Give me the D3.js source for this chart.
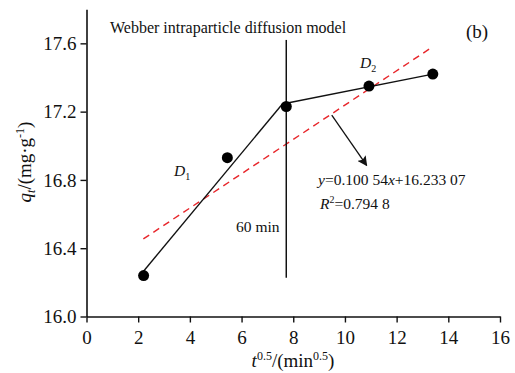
<!DOCTYPE html>
<html><head><meta charset="utf-8">
<script src="https://cdn.jsdelivr.net/npm/d3@7"></script>
<style>
body{margin:0;background:#fff;}
svg, svg text{font-family:"Liberation Serif","Times New Roman",serif !important;}
</style></head>
<body><svg id="c" width="515" height="373"></svg>
<script>
const xTicks = [0,2,4,6,8,10,12,14,16];
const yTicks = [16.0,16.4,16.8,17.2,17.6];
const pointX = [2.21, 5.45, 7.73, 10.93, 13.4];
const pointY = [16.24, 16.93, 17.23, 17.35, 17.42];
const d1X = [2.15, 7.58];
const d1Y = [16.255, 17.245];
const d2X = [7.58, 13.4];
const d2Y = [17.245, 17.42];
const fitSlope = 0.10054, fitIntercept = 16.23307;
const fitRange = [2.2, 13.3];
const markerX = 7.73, markerY = [16.227, 17.62];
const arrowX = [9.49, 10.84], arrowY = [17.18, 16.885];

const svg = d3.select("#c");
const x = d3.scaleLinear().domain([0,16]).range([86.5,500]);
const y = d3.scaleLinear().domain([16,17.8]).range([316.5,9.2]);

// axes
const xa = svg.append("g").attr("transform","translate(0,316.5)")
  .call(d3.axisBottom(x).tickValues(xTicks).tickFormat(d3.format("d")).tickSize(6).tickSizeOuter(0));
const ya = svg.append("g").attr("transform","translate(86.5,0)")
  .call(d3.axisLeft(y).tickValues(yTicks).tickFormat(d3.format(".1f")).tickSize(6).tickSizeOuter(0));
[xa,ya].forEach(a=>{
  a.attr("font-family",null).attr("font-size",null);
  a.select(".domain").attr("stroke","#111").attr("stroke-width",1.6);
  a.selectAll(".tick line").attr("stroke","#111").attr("stroke-width",1.4);
  a.selectAll("text").attr("font-size",19).attr("fill","#111");
});
xa.selectAll("text").attr("dy","0.95em");
ya.selectAll("text").attr("dx","-0.05em");

const line = d3.line().x(d=>x(d[0])).y(d=>y(d[1]));
// fit line
svg.append("path").attr("d", line(fitRange.map(v=>[v, fitSlope*v+fitIntercept])))
  .attr("fill","none").attr("stroke","#e8262b").attr("stroke-width",1.4).attr("stroke-dasharray","7,5");
// D1, D2 lines
svg.append("path").attr("d", line(d1X.map((v,i)=>[v,d1Y[i]]))).attr("fill","none").attr("stroke","#111").attr("stroke-width",1.4);
svg.append("path").attr("d", line(d2X.map((v,i)=>[v,d2Y[i]]))).attr("fill","none").attr("stroke","#111").attr("stroke-width",1.4);
// vertical marker
svg.append("path").attr("d", line(markerY.map(v=>[markerX,v]))).attr("fill","none").attr("stroke","#111").attr("stroke-width",1.5);
// points
svg.selectAll("circle.p").data(pointX.map((v,i)=>[v,pointY[i]])).join("circle")
  .attr("cx",d=>x(d[0])).attr("cy",d=>y(d[1])).attr("r",5.5).attr("fill","#000");
// arrow
svg.append("defs").append("marker").attr("id","ah").attr("viewBox","0 0 10 10").attr("refX",9).attr("refY",5)
  .attr("markerWidth",10).attr("markerHeight",10).attr("markerUnits","userSpaceOnUse").attr("orient","auto")
  .append("path").attr("d","M0,0L10,5L0,10L2,5Z").attr("fill","#111");
svg.append("path").attr("d", line(arrowX.map((v,i)=>[v,arrowY[i]]))).attr("stroke","#111").attr("stroke-width",1.3)
  .attr("fill","none").attr("marker-end","url(#ah)");

// texts
const t = (xx,yy,size)=>svg.append("text").attr("x",xx).attr("y",yy).attr("font-size",size).attr("fill","#111");
t(110,33,16).text("Webber intraparticle diffusion model");
t(466,38,19).text("(b)");
const D2 = t(360,68,15.5); D2.append("tspan").attr("font-style","italic").text("D"); D2.append("tspan").attr("font-size",10).attr("dy",4).text("2");
const D1 = t(174,176,15.5); D1.append("tspan").attr("font-style","italic").text("D"); D1.append("tspan").attr("font-size",10).attr("dy",4).text("1");
const eq = t(318,185,15.5);
eq.append("tspan").attr("font-style","italic").text("y");
eq.append("tspan").text("=0.100 54");
eq.append("tspan").attr("font-style","italic").text("x");
eq.append("tspan").text("+16.233 07");
const r2 = t(320,209,15.5);
r2.append("tspan").attr("font-style","italic").text("R");
r2.append("tspan").attr("font-size",10).attr("dy",-6).text("2");
r2.append("tspan").attr("dy",6).text("=0.794 8");
t(236,232,15.5).text("60 min");

// axis titles
const xt = svg.append("text").attr("x",293).attr("y",367).attr("text-anchor","middle").attr("font-size",19).attr("fill","#111");
xt.append("tspan").attr("font-style","italic").text("t");
xt.append("tspan").attr("font-size",12).attr("dy",-7).text("0.5");
xt.append("tspan").attr("dy",7).text("/(min");
xt.append("tspan").attr("font-size",12).attr("dy",-7).text("0.5");
xt.append("tspan").attr("dy",7).text(")");
const yt = svg.append("text").attr("transform","translate(31,162) rotate(-90)").attr("text-anchor","middle").attr("font-size",19).attr("fill","#111");
yt.append("tspan").attr("font-style","italic").text("q");
yt.append("tspan").attr("font-style","italic").attr("font-size",12).attr("dy",4).text("t");
yt.append("tspan").attr("dy",-4).text("/(mg·g");
yt.append("tspan").attr("font-size",12).attr("dy",-7).text("-1");
yt.append("tspan").attr("dy",7).text(")");
</script></body></html>
